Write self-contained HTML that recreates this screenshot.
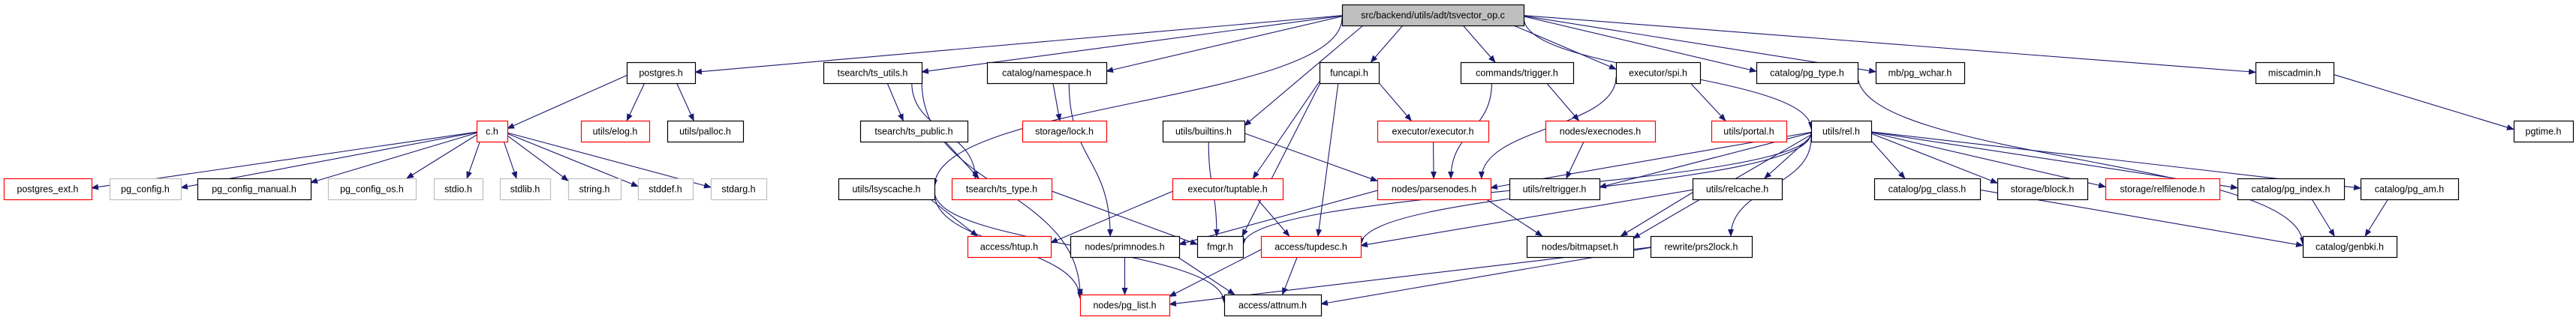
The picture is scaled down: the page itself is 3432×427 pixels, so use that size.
<!DOCTYPE html>
<html><head><meta charset="utf-8">
<style>
html,body{margin:0;padding:0;background:#fff;}
svg{display:block;}
text{font-family:"Liberation Sans",sans-serif;font-size:12.5px;fill:#000;}
</style></head>
<body>
<svg id="g" xmlns="http://www.w3.org/2000/svg" width="3432" height="427" viewBox="0 0 3432 427">
<defs>
<marker id="a" markerWidth="10" markerHeight="8" refX="9" refY="4" orient="auto" markerUnits="userSpaceOnUse">
<path d="M0,0 L10,4 L0,8 z" fill="#191970"/>
</marker>
</defs>
<g id="edges" stroke="#191970" stroke-width="1.1" fill="none"></g>
<g id="nodes"></g>
</svg>
<script>
var R=[20,97,175,252,329,407];
// name:[x1,x2,row,type,label]  type: b black, r red, g gray, root
var N={
root:[1788,2030,0,'root','src/backend/utils/adt/tsvector_op.c'],
postgres:[835,926,1,'b','postgres.h'],
tsutils:[1097,1228,1,'b','tsearch/ts_utils.h'],
namespace:[1315,1474,1,'b','catalog/namespace.h'],
funcapi:[1758,1837,1,'b','funcapi.h'],
trigger:[1946,2096,1,'b','commands/trigger.h'],
spi:[2153,2265,1,'b','executor/spi.h'],
pgtype:[2340,2475,1,'b','catalog/pg_type.h'],
wchar:[2499,2617,1,'b','mb/pg_wchar.h'],
misc:[3005,3109,1,'b','miscadmin.h'],
ch:[635,676,2,'r','c.h'],
elog:[774,865,2,'r','utils/elog.h'],
palloc:[889,990,2,'b','utils/palloc.h'],
tspublic:[1146,1289,2,'b','tsearch/ts_public.h'],
lock:[1362,1474,2,'r','storage/lock.h'],
builtins:[1549,1658,2,'b','utils/builtins.h'],
executor:[1835,1983,2,'r','executor/executor.h'],
execnodes:[2059,2205,2,'r','nodes/execnodes.h'],
portal:[2280,2380,2,'r','utils/portal.h'],
rel:[2413,2493,2,'b','utils/rel.h'],
pgtime:[3349,3428,2,'b','pgtime.h'],
pgext:[5,122,3,'r','postgres_ext.h'],
pgconfig:[146,241,3,'g','pg_config.h'],
pgcm:[263,414,3,'b','pg_config_manual.h'],
pgos:[437,554,3,'g','pg_config_os.h'],
stdio:[578,643,3,'g','stdio.h'],
stdlib:[666,733,3,'g','stdlib.h'],
string:[757,827,3,'g','string.h'],
stddef:[850,923,3,'g','stddef.h'],
stdarg:[947,1021,3,'g','stdarg.h'],
lsys:[1117,1245,3,'b','utils/lsyscache.h'],
tstype:[1268,1401,3,'r','tsearch/ts_type.h'],
tuptable:[1562,1709,3,'r','executor/tuptable.h'],
parsenodes:[1835,1986,3,'r','nodes/parsenodes.h'],
reltrig:[2011,2131,3,'b','utils/reltrigger.h'],
relcache:[2255,2374,3,'b','utils/relcache.h'],
pgclass:[2497,2638,3,'b','catalog/pg_class.h'],
block:[2661,2781,3,'b','storage/block.h'],
relfile:[2805,2957,3,'r','storage/relfilenode.h'],
pgindex:[2981,3123,3,'b','catalog/pg_index.h'],
pgam:[3145,3275,3,'b','catalog/pg_am.h'],
htup:[1289,1400,4,'r','access/htup.h'],
primnodes:[1426,1571,4,'b','nodes/primnodes.h'],
fmgr:[1595,1656,4,'b','fmgr.h'],
tupdesc:[1680,1813,4,'r','access/tupdesc.h'],
bitmapset:[2034,2176,4,'b','nodes/bitmapset.h'],
prs2:[2199,2334,4,'b','rewrite/prs2lock.h'],
genbki:[3068,3193,4,'b','catalog/genbki.h'],
pglist:[1439,1558,5,'r','nodes/pg_list.h'],
attnum:[1631,1760,5,'b','access/attnum.h']
};
var E=[
['root','postgres'],['root','tsutils'],['root','namespace'],['root','funcapi'],['root','trigger'],['root','spi'],
['root','pgtype'],['root','wchar'],['root','misc'],['root','rel',1],['root','builtins'],['root','lsys',1],
['postgres','ch'],['postgres','elog'],['postgres','palloc'],
['ch','pgext'],['ch','pgconfig'],['ch','pgcm'],['ch','pgos'],['ch','stdio'],['ch','stdlib'],['ch','string'],['ch','stddef'],['ch','stdarg'],
['tsutils','tspublic'],['tsutils','tstype',1],['tsutils','pglist',1],['tspublic','tstype'],
['namespace','lock'],['namespace','primnodes',1],
['funcapi','tuptable'],['funcapi','executor'],['funcapi','fmgr'],['funcapi','tupdesc'],
['trigger','execnodes'],['trigger','parsenodes',1],['spi','parsenodes',1],['spi','portal'],
['builtins','fmgr',1],['builtins','parsenodes'],['executor','parsenodes'],['execnodes','reltrig'],
['lsys','htup'],['lsys','pglist',1],['lsys','attnum',1],['tstype','fmgr'],
['tuptable','htup'],['tuptable','tupdesc'],['parsenodes','primnodes'],['parsenodes','bitmapset'],
['primnodes','pglist'],['primnodes','attnum'],['tupdesc','pglist'],['tupdesc','attnum'],
['rel','reltrig'],['rel','fmgr',1],['rel','tupdesc',1],['rel','parsenodes'],['rel','relcache'],['rel','bitmapset'],['rel','prs2',1],
['rel','pgclass'],['rel','block'],['rel','relfile'],['rel','pgindex'],['rel','pgam'],
['relcache','tupdesc'],['relcache','bitmapset'],['prs2','pglist'],['prs2','attnum'],
['pgtype','genbki',1],['pgclass','genbki'],['pgindex','genbki'],['pgam','genbki'],['misc','pgtime']
];
var NS='http://www.w3.org/2000/svg';
var eg=document.getElementById('edges'),ng=document.getElementById('nodes');
function box(k){var n=N[k];return {x1:n[0],x2:n[1],y1:R[n[2]]-14,y2:R[n[2]]+14,cx:(n[0]+n[1])/2,cy:R[n[2]]};}
function clip(b,px,py,qx,qy){ // point on border of b along line from center(px,py) to (qx,qy)
 var dx=qx-px,dy=qy-py,t=1;
 if(dx!==0){var tx=((dx>0?b.x2:b.x1)-px)/dx;if(tx>0&&tx<t)t=tx;}
 if(dy!==0){var ty=((dy>0?b.y2:b.y1)-py)/dy;if(ty>0&&ty<t)t=ty;}
 return [px+dx*t,py+dy*t];}
E.forEach(function(e){
 var s=box(e[0]),d=box(e[1]);
 var sx=s.cx,sy=s.cy,dx=d.cx,dy=d.cy;
 // bias endpoints toward each other horizontally
 var sxx=Math.max(s.x1+8,Math.min(s.x2-8,sx+(dx-sx)*0.25));
 var dxx=Math.max(d.x1+8,Math.min(d.x2-8,dx+(sx-dx)*0.15));
 var p=clip(s,sxx,sy,dxx,dy),q=clip(d,dxx,dy,sxx,sy);
 var path=document.createElementNS(NS,'path');
 if(e[2]){var my=(p[1]+q[1])/2;
  path.setAttribute('d','M'+p[0]+','+p[1]+' C'+p[0]+','+(my)+' '+q[0]+','+(my)+' '+q[0]+','+q[1]);}
 else path.setAttribute('d','M'+p[0]+','+p[1]+' L'+q[0]+','+q[1]);
 path.setAttribute('marker-end','url(#a)');
 eg.appendChild(path);});
for(var k in N){var n=N[k],b=box(k);
 var r=document.createElementNS(NS,'rect');
 r.setAttribute('x',b.x1+0.5);r.setAttribute('y',b.y1+0.5);
 r.setAttribute('width',b.x2-b.x1);r.setAttribute('height',28);
 var st=n[3]=='r'?'#ff0000':n[3]=='g'?'#bfbfbf':'#000';
 r.setAttribute('fill',n[3]=='root'?'#bfbfbf':'#fff');r.setAttribute('stroke',st);r.setAttribute('stroke-width','1.2');
 ng.appendChild(r);
 var t=document.createElementNS(NS,'text');
 t.setAttribute('x',b.cx);t.setAttribute('y',b.cy+4.5);t.setAttribute('text-anchor','middle');
 t.textContent=n[4];ng.appendChild(t);}
</script>
</body></html>
